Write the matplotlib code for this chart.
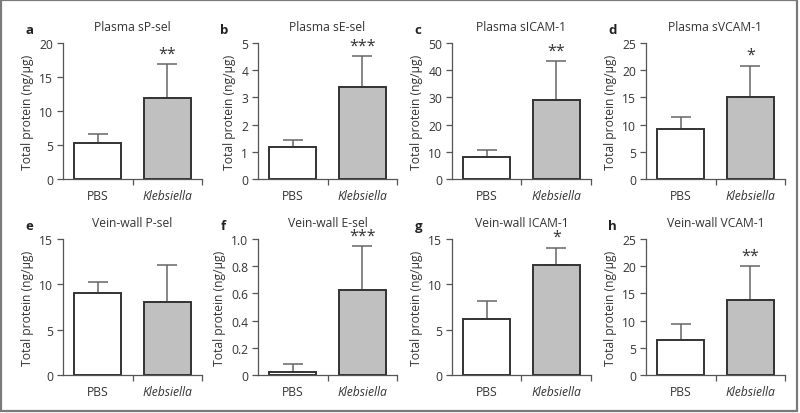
import matplotlib
matplotlib.use("Agg")
import matplotlib.pyplot as plt
from matplotlib.patches import Rectangle
import numpy as np

plt.rcParams['font.family'] = ['Open Sans', 'DejaVu Sans']

categories = ["PBS", "Klebsiella"]
letters = ["a", "b", "c", "d", "e", "f", "g", "h"]
titles = ["Plasma sP-sel", "Plasma sE-sel", "Plasma sICAM-1", "Plasma sVCAM-1",
          "Vein-wall P-sel", "Vein-wall E-sel", "Vein-wall ICAM-1", "Vein-wall VCAM-1"]
means_pbs = [5.35, 1.16, 8.15, 9.1, 9.08, 0.025, 6.18, 6.5]
means_kleb = [11.95, 3.38, 29.0, 15.0, 8.0, 0.625, 12.1, 13.73]
upper_pbs = [6.55, 1.44, 10.5, 11.45, 10.3, 0.081, 8.15, 9.38]
upper_kleb = [16.9, 4.52, 43.3, 20.85, 12.17, 0.945, 14.05, 20.03]
stars = ["**", "***", "**", "*", "", "***", "*", "**"]
ymax = [20, 5, 50, 25, 15, 1.0, 15, 25]
ystep = [5, 1, 10, 5, 5, 0.2, 5, 5]
ytick_fmt = ["{:g}"] * 5 + ["{:.1f}"] + ["{:g}"] * 2

W, H = 800, 414
fig = plt.figure(figsize=(W / 100, H / 100), dpi=100)
fig.patches.append(Rectangle((1 / W, 2 / H), 796 / W, 411 / H, transform=fig.transFigure,
                             fill=False, edgecolor="#7a7a7a", linewidth=1.6))

axis_left_px = [63, 258, 452, 646]
row_px = [(44, 180), (240, 376)]
axw_px = 139
txt = "#333333"
spine_c = "#555555"

for i in range(8):
    r, c = divmod(i, 4)
    top, bot = row_px[r]
    left = axis_left_px[c]
    ax = fig.add_axes([left / W, 1 - bot / H, axw_px / W, (bot - top) / H])
    x = np.arange(2)
    vals = [means_pbs[i], means_kleb[i]]
    ups = [upper_pbs[i], upper_kleb[i]]
    errs = [u - v for u, v in zip(ups, vals)]
    ax.errorbar(x, vals, yerr=[[0, 0], errs], fmt="none", ecolor="#666666",
                elinewidth=1.1, capsize=7.5, capthick=1.1, zorder=1)
    ax.bar(x, vals, width=0.68, color=["white", "#c0c0c0"], edgecolor="#333333",
           linewidth=1.4, zorder=2)
    ax.set_xlim(-0.5, 1.5)
    ax.set_ylim(0, ymax[i])
    yt = np.arange(0, ymax[i] + ystep[i] / 2, ystep[i])
    ax.set_yticks(yt)
    ax.set_yticklabels(["0" if v == 0 else ytick_fmt[i].format(v) for v in yt])
    ax.set_xticks(x)
    ax.set_xticklabels(categories)
    ax.get_xticklabels()[1].set_style("italic")
    ax.set_xticks([0.5, 1.5], minor=True)
    ax.tick_params(axis="x", which="major", length=0, pad=7, labelsize=8.7, colors=txt)
    ax.tick_params(axis="x", which="minor", length=4, width=0.9, color=spine_c)
    ax.tick_params(axis="y", length=4, width=0.9, color=spine_c, labelsize=8.7,
                   labelcolor=txt, pad=3)
    for s in ["top", "right"]:
        ax.spines[s].set_visible(False)
    for s in ["left", "bottom"]:
        ax.spines[s].set_color(spine_c)
        ax.spines[s].set_linewidth(0.9)
    ax.set_ylabel("Total protein (ng/μg)", fontsize=8.7, color=txt, labelpad=4)
    ax.set_title(titles[i], fontsize=8.7, color=txt, pad=9)
    ax.text(-0.27, 1.10, letters[i], transform=ax.transAxes, fontsize=9.5,
            fontweight="bold", color="#222222", ha="left", va="center")
    if stars[i]:
        ax.annotate(stars[i], xy=(1, upper_kleb[i]), xytext=(0, 2),
                    textcoords="offset points", ha="center", va="bottom",
                    fontsize=11.5, color=txt)

fig.savefig("out.png", dpi=100)
